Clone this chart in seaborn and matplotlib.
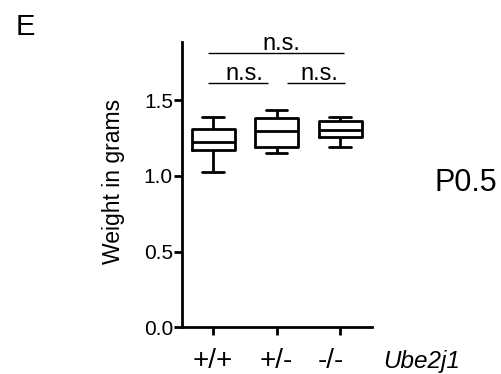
import matplotlib
matplotlib.use("Agg")
import matplotlib.pyplot as plt
import matplotlib.transforms as mtransforms
import seaborn as sns
import pandas as pd

# ---- data ----
genotypes = ["+/+", "+/-", "-/-"]
# five values per group: min, q1, median, q3, max
wt_values = [1.023, 1.170, 1.225, 1.309, 1.390]
het_values = [1.149, 1.192, 1.298, 1.383, 1.432]
ko_values = [1.192, 1.258, 1.304, 1.364, 1.390]
yticks = [0.0, 0.5, 1.0, 1.5]
ytick_labels = ["0.0", "0.5", "1.0", "1.5"]
# comparisons: (x start, x end, y level, label, label x)
brackets = [
    (-0.083, 2.058, 1.813, "n.s.", 1.07),
    (-0.083, 0.857, 1.614, "n.s.", 0.49),
    (1.165, 2.068, 1.614, "n.s.", 1.67),
]

df = pd.DataFrame({
    "genotype": [genotypes[0]] * len(wt_values) + [genotypes[1]] * len(het_values) + [genotypes[2]] * len(ko_values),
    "weight": wt_values + het_values + ko_values,
})

sns.set_style("ticks")
plt.rcParams["font.family"] = ["Liberation Sans", "DejaVu Sans"]
plt.rcParams["text.color"] = "black"
plt.rcParams["axes.labelcolor"] = "black"
plt.rcParams["xtick.color"] = "black"
plt.rcParams["ytick.color"] = "black"

fig = plt.figure(figsize=(5.02, 3.74), dpi=100)
ax = fig.add_axes([0.3625, 0.1249, 0.3785, 0.7628])

sns.boxplot(data=df, x="genotype", y="weight", order=genotypes, fill=False,
            color="black", linewidth=2, width=0.68, whis=(0, 100), ax=ax)

ax.set_xlim(-0.49, 2.5)
ax.set_ylim(0, 1.883)
ax.set_yticks(yticks)
ax.set_yticklabels(ytick_labels)
ax.set_xlabel("")
ax.set_ylabel("")
sns.despine(ax=ax)
for s in ["left", "bottom"]:
    ax.spines[s].set_linewidth(2)
    ax.spines[s].set_color("black")
ax.tick_params(axis="y", length=6, width=2, pad=0.5, labelsize=15, colors="black")
ax.tick_params(axis="x", length=5.5, width=2, pad=9.5, labelsize=20, colors="black")

# shift the last x tick label slightly left as in the reference
lbl = ax.get_xticklabels()[2]
lbl.set_transform(lbl.get_transform() + mtransforms.ScaledTranslation(-0.09, 0, fig.dpi_scale_trans))

for x0, x1, y, txt, tx in brackets:
    ax.plot([x0, x1], [y, y], color="black", lw=1, clip_on=False, solid_capstyle="butt")
    ax.text(tx, y + 0.02, txt, ha="center", va="baseline", fontsize=17, clip_on=False)

fig.text(114 / 502, 1 - 181 / 374, "Weight in grams", rotation=90, ha="center", va="center", fontsize=16.5)
fig.text(16 / 502, 1 - 35 / 374, "E", ha="left", va="baseline", fontsize=21)
fig.text(435 / 502, 1 - 191 / 374, "P0.5", ha="left", va="baseline", fontsize=22)
fig.text(383 / 502, 1 - 368 / 374, "Ube2j1", ha="left", va="baseline", fontsize=17.5, style="italic")

fig.savefig("out.png", dpi=100)
